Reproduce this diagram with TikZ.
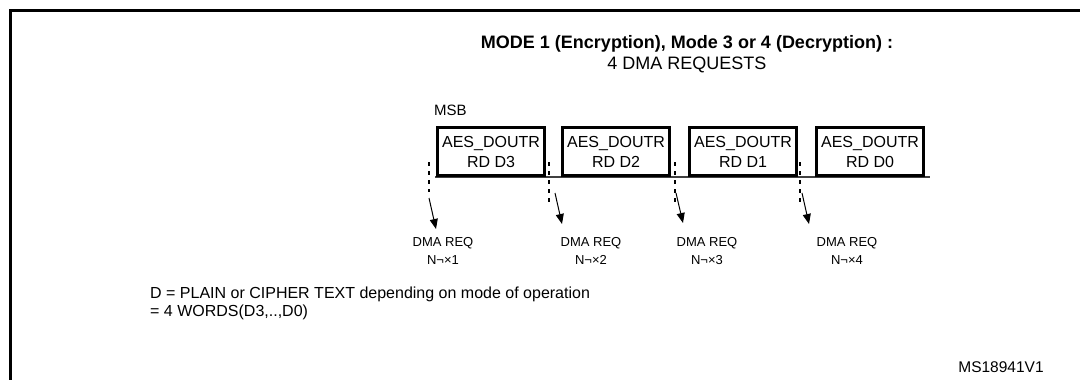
\documentclass[tikz,border=0pt]{standalone}
\usepackage{fontspec}
\setmainfont{Liberation Sans}
\usetikzlibrary{arrows.meta,positioning,calc}

\begin{document}
\begin{tikzpicture}[x=1pt, y=-1pt,
  wordbox/.style={draw, line width=3pt, minimum width=107pt, minimum height=48pt, inner sep=0pt, align=center, font=\fontsize{16}{20}\selectfont},
  reqlabel/.style={align=center, font=\fontsize{13}{18}\selectfont},
  tickline/.style={line width=2pt, dash pattern=on 4pt off 5pt},
  reqarrow/.style={-{Triangle[length=10pt,width=8pt]}, line width=1pt}]
  \clip (0,0) rectangle (1080,380);
  % outer frame
  \draw[line width=3pt] (10,400) -- (10,10) -- (1100,10);
  % headings
  \node[font=\fontsize{18}{20}\selectfont\bfseries, inner sep=0pt] (mode) at (687,44) {MODE 1 (Encryption), Mode 3 or 4 (Decryption) :};
  \node[font=\fontsize{18}{20}\selectfont, below=4pt of mode, inner sep=0pt] (nreq) {4 DMA REQUESTS};
  % time line and data words
  \coordinate (tl0) at (435,176.5);
  \coordinate (tl1) at (930,176.5);
  \draw[line width=2pt, black!75] (tl0) -- (tl1);
  \node[wordbox] (d3) at (491,151.5) {AES\_DOUTR\\RD D3};
  \node[wordbox, right=15pt of d3] (d2) {AES\_DOUTR\\RD D2};
  \node[wordbox, right=17pt of d2] (d1) {AES\_DOUTR\\RD D1};
  \node[wordbox, right=17pt of d1] (d0) {AES\_DOUTR\\RD D0};
  \node[font=\fontsize{15}{18}\selectfont, anchor=south west, inner sep=0pt] (msb) at ($(d3.north west)+(-2,-10)$) {MSB};
  % request ticks
  \coordinate (q1) at (429,162);
  \coordinate (q2) at (549,162);
  \coordinate (q3) at (675,162);
  \coordinate (q4) at (800,162);
  \draw[tickline] (q1) -- ++(0,30);
  \draw[tickline] (q2) -- ++(0,42);
  \draw[tickline] (q3) -- ++(0,42);
  \draw[tickline] (q4) -- ++(0,42);
  \node[reqlabel] (r1) at (443,251) {DMA REQ\\N¬×1};
  \node[reqlabel] (r2) at (591,251) {DMA REQ\\N¬×2};
  \node[reqlabel] (r3) at (707,251) {DMA REQ\\N¬×3};
  \node[reqlabel] (r4) at (847,251) {DMA REQ\\N¬×4};
  \draw[reqarrow] ($(q1)+(0,36)$) -- ($(q1)+(7,67)$);
  \draw[reqarrow] ($(q2)+(6,31)$) -- ($(q2)+(13,62)$);
  \draw[reqarrow] ($(q3)+(1,31)$) -- ($(q3)+(8,61)$);
  \draw[reqarrow] ($(q4)+(2,31)$) -- ($(q4)+(9,62)$);
  % notes
  \node[font=\fontsize{16}{18}\selectfont, align=left, anchor=north west, inner sep=0pt] (note) at (150,287) {D = PLAIN or CIPHER TEXT depending on mode of operation\\= 4 WORDS(D3,..,D0)};
  \node[font=\fontsize{15.5}{18}\selectfont] (ref) at (1001,367) {MS18941V1};
\end{tikzpicture}
\end{document}
